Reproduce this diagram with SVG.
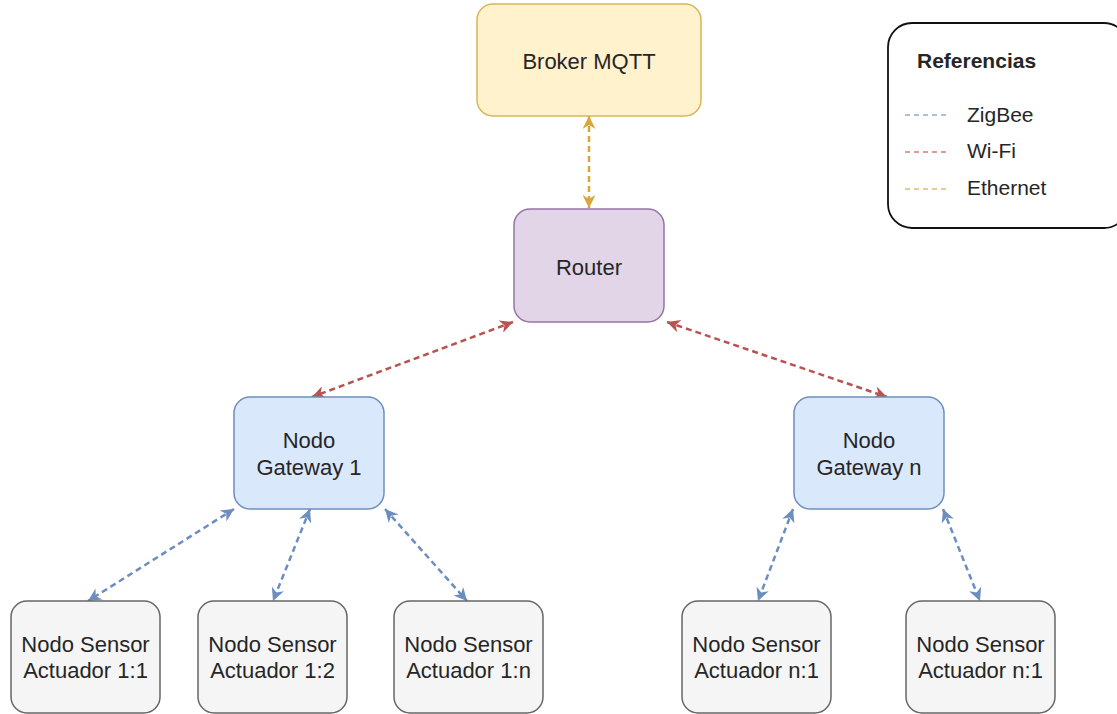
<svg xmlns="http://www.w3.org/2000/svg" width="1117" height="714" viewBox="0 0 1117 714">
<style>
text{font-family:"Liberation Sans",Arial,sans-serif;font-size:22px;fill:#262626;text-anchor:middle}
.box{stroke-width:1.5}
.broker{fill:#fff2cc;stroke:#d6b656}
.router{fill:#e1d5e7;stroke:#9673a6}
.gw{fill:#dae8fc;stroke:#6c8ebf}
.sn{fill:#f5f5f5;stroke:#666}
.c{fill:none;stroke-width:2.5;stroke-dasharray:6 4}
.eth{stroke:#d7a73a}
.wifi{stroke:#b85450}
.zig{stroke:#6c8ebf}
.leg{font-size:21px;text-anchor:start}
.ld{stroke-width:1.5;stroke-dasharray:5 4;opacity:0.75}
</style>
<defs>
<marker id="aE" viewBox="0 0 10 10" refX="10" refY="5" markerWidth="15" markerHeight="13" markerUnits="userSpaceOnUse" orient="auto-start-reverse"><path d="M0,0 L10,5 L0,10 L3,5 z" fill="#d7a73a"/></marker>
<marker id="aW" viewBox="0 0 10 10" refX="10" refY="5" markerWidth="15" markerHeight="13" markerUnits="userSpaceOnUse" orient="auto-start-reverse"><path d="M0,0 L10,5 L0,10 L3,5 z" fill="#b85450"/></marker>
<marker id="aZ" viewBox="0 0 10 10" refX="10" refY="5" markerWidth="15" markerHeight="13" markerUnits="userSpaceOnUse" orient="auto-start-reverse"><path d="M0,0 L10,5 L0,10 L3,5 z" fill="#6c8ebf"/></marker>
</defs>
<rect width="1117" height="714" fill="#fff"/>
<g id="connectors">
<line class="c eth" x1="589" y1="116" x2="589" y2="208" marker-start="url(#aE)" marker-end="url(#aE)"/>
<line class="c wifi" x1="513" y1="322" x2="312" y2="397" marker-start="url(#aW)" marker-end="url(#aW)"/>
<line class="c wifi" x1="667" y1="322" x2="887" y2="397" marker-start="url(#aW)" marker-end="url(#aW)"/>
<line class="c zig" x1="234" y1="509" x2="88" y2="601" marker-start="url(#aZ)" marker-end="url(#aZ)"/>
<line class="c zig" x1="310" y1="509" x2="273" y2="601" marker-start="url(#aZ)" marker-end="url(#aZ)"/>
<line class="c zig" x1="385" y1="509" x2="467" y2="601" marker-start="url(#aZ)" marker-end="url(#aZ)"/>
<line class="c zig" x1="793" y1="509" x2="758" y2="601" marker-start="url(#aZ)" marker-end="url(#aZ)"/>
<line class="c zig" x1="943" y1="509" x2="980" y2="601" marker-start="url(#aZ)" marker-end="url(#aZ)"/>
</g>
<g id="broker"><rect class="box broker" x="477" y="4" width="224" height="112" rx="16"/><text x="589" y="69">Broker MQTT</text></g>
<g id="router"><rect class="box router" x="514" y="209" width="150" height="113" rx="16"/><text x="589" y="275">Router</text></g>
<g id="gateway1"><rect class="box gw" x="234" y="397" width="150" height="112" rx="16"/><text x="309" y="448">Nodo</text><text x="309" y="475">Gateway 1</text></g>
<g id="gatewayn"><rect class="box gw" x="794" y="397" width="150" height="112" rx="16"/><text x="869" y="448">Nodo</text><text x="869" y="475">Gateway n</text></g>
<g id="s11"><rect class="box sn" x="11" y="601" width="149" height="112" rx="16"/><text x="85.5" y="652">Nodo Sensor</text><text x="85.5" y="678">Actuador 1:1</text></g>
<g id="s12"><rect class="box sn" x="198" y="601" width="149" height="112" rx="16"/><text x="272.5" y="652">Nodo Sensor</text><text x="272.5" y="678">Actuador 1:2</text></g>
<g id="s1n"><rect class="box sn" x="394" y="601" width="149" height="112" rx="16"/><text x="468.5" y="652">Nodo Sensor</text><text x="468.5" y="678">Actuador 1:n</text></g>
<g id="sn1"><rect class="box sn" x="682" y="601" width="149" height="112" rx="16"/><text x="756.5" y="652">Nodo Sensor</text><text x="756.5" y="678">Actuador n:1</text></g>
<g id="sn1b"><rect class="box sn" x="906" y="601" width="149" height="112" rx="16"/><text x="980.5" y="652">Nodo Sensor</text><text x="980.5" y="678">Actuador n:1</text></g>
<g id="legend">
<rect x="888" y="23" width="240" height="205" rx="24" fill="#fff" stroke="#111" stroke-width="1.8"/>
<text class="leg" x="917" y="68" font-weight="bold">Referencias</text>
<line class="ld" x1="905" y1="115" x2="946" y2="115" stroke="#6c8ebf"/>
<text class="leg" x="967" y="122">ZigBee</text>
<line class="ld" x1="905" y1="152" x2="946" y2="152" stroke="#b85450"/>
<text class="leg" x="967" y="158">Wi-Fi</text>
<line class="ld" x1="905" y1="189" x2="946" y2="189" stroke="#d7a73a"/>
<text class="leg" x="967" y="195">Ethernet</text>
</g>
</svg>
